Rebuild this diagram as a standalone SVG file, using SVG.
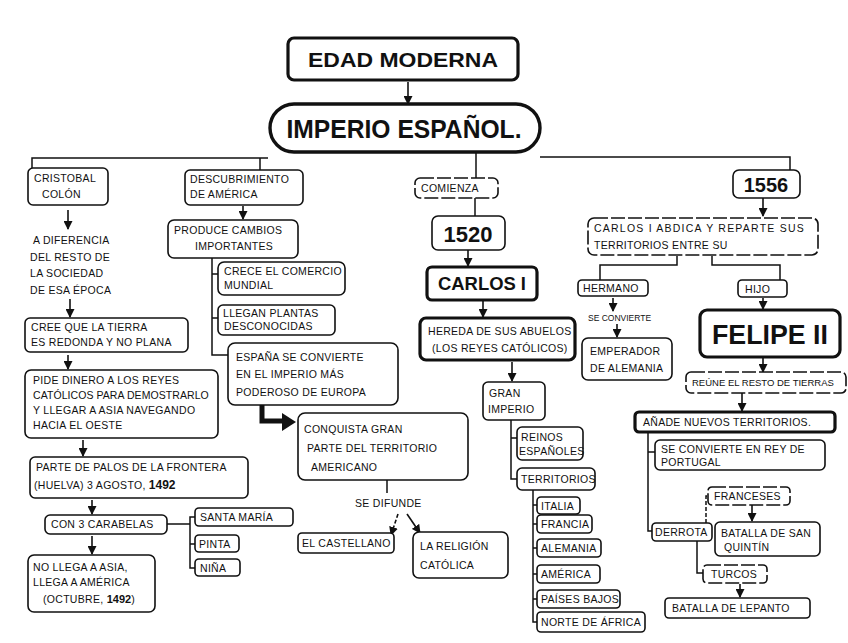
<svg xmlns="http://www.w3.org/2000/svg" width="848" height="643" viewBox="0 0 848 643">
<defs>
<marker id="ah" markerUnits="userSpaceOnUse" markerWidth="9" markerHeight="9" refX="8" refY="4.5" orient="auto">
<path d="M0,0 L9,4.5 L0,9 z" fill="#111"/>
</marker>
<style>
.b{fill:#fff;stroke:#111;stroke-width:1.6}
.bd{fill:#fff;stroke:#111;stroke-width:1.6;stroke-dasharray:14 3}
.bt{fill:#fff;stroke:#111;stroke-width:3.2}
.t{font-family:"Liberation Sans",Arial,sans-serif;font-size:10.5px;letter-spacing:0.3px;fill:#111}
.s{font-size:8.5px;letter-spacing:0}
.h{font-weight:bold;letter-spacing:0}
.m{text-anchor:middle}
.c{fill:none;stroke:#111;stroke-width:1.5}
.a{fill:none;stroke:#111;stroke-width:1.6;marker-end:url(#ah)}
</style>
</defs>
<rect width="848" height="643" fill="#fff"/>

<g id="connectors">
<path class="a" d="M408,82 V104"/>
<path class="c" d="M32,168 V158 H268 M540,157 H790 V170 M260,158 V170 M476,152 V178"/>
<path class="a" d="M68,210 V229"/>
<path class="a" d="M70,299 V317"/>
<path class="a" d="M68,355 V369"/>
<path class="a" d="M83,440 V456"/>
<path class="a" d="M92,500 V514"/>
<path class="c" d="M167,524 H190 M195,517 H190 V568 H195 M190,544 H195"/>
<path class="a" d="M92,536 V554"/>
<path class="a" d="M243,206 V219"/>
<path class="c" d="M212,258 V355 H228 M212,274 H218 M212,318 H218"/>
<path d="M262,405 V421 H284" fill="none" stroke="#111" stroke-width="5"/>
<path d="M282,413 L296,422 L282,431 z" fill="#111"/>
<path class="c" d="M387,480 V493"/>
<path class="a" d="M398,514 L391,535" stroke-dasharray="4 2"/>
<path class="a" d="M407,514 L420,533"/>
<path class="c" d="M475,198 V216"/>
<path class="a" d="M468,250 V266"/>
<path class="a" d="M483,300 V317"/>
<path class="a" d="M512,362 V381"/>
<path class="c" d="M511,420 V479 H517 M511,438 H517"/>
<path class="c" d="M533,490 V622 H537 M533,505 H537 M533,524 H537 M533,548 H537 M533,574 H537 M533,599 H537"/>
<path class="a" d="M763,198 V216"/>
<path class="c" d="M677,256 V265 H600 V280 M712,256 V265 H780 V280"/>
<path class="a" d="M613,298 V311"/>
<path class="a" d="M617,324 V337"/>
<path class="a" d="M763,298 V309"/>
<path class="a" d="M763,358 V372"/>
<path class="a" d="M742,393 V411"/>
<path class="c" d="M648,432 V531 H652 M648,452 H655"/>
<path class="c" d="M706,523 V496 H708" stroke-dasharray="4 2"/>
<path class="a" d="M752,505 V521"/>
<path class="c" d="M697,541 V573 H703"/>
<path class="a" d="M740,584 V597"/>
</g>

<g id="edad-moderna"><rect class="bt" x="288" y="38" width="230" height="42" rx="6"/><text class="t h m" x="403" y="67" style="font-size:21px" textLength="190" lengthAdjust="spacingAndGlyphs">EDAD MODERNA</text></g>
<g id="imperio"><rect x="270" y="104" width="270" height="48" rx="24" fill="#fff" stroke="#111" stroke-width="3.4"/><text class="t h m" x="404" y="138" style="font-size:25px" textLength="235" lengthAdjust="spacingAndGlyphs">IMPERIO ESPAÑOL.</text></g>

<g id="colon"><rect class="b" x="28" y="168" width="80" height="37" rx="5"/><text class="t" x="34" y="182">CRISTOBAL</text><text class="t" x="42" y="198">COLÓN</text></g>
<g id="diferencia"><text class="t" x="33" y="244">A DIFERENCIA</text><text class="t" x="30" y="261">DEL RESTO DE</text><text class="t" x="30" y="277">LA SOCIEDAD</text><text class="t" x="30" y="294">DE ESA ÉPOCA</text></g>
<g id="cree"><rect class="b" x="25" y="318" width="163" height="34" rx="5"/><text class="t" x="31" y="331">CREE QUE LA TIERRA</text><text class="t" x="31" y="346">ES REDONDA Y NO PLANA</text></g>
<g id="pide"><rect class="b" x="25" y="370" width="193" height="68" rx="6"/><text class="t" x="33" y="384">PIDE DINERO A LOS REYES</text><text class="t" x="33" y="399" textLength="176">CATÓLICOS PARA DEMOSTRARLO</text><text class="t" x="33" y="414">Y LLEGAR A ASIA NAVEGANDO</text><text class="t" x="33" y="429">HACIA EL OESTE</text></g>
<g id="parte"><rect class="b" x="30" y="457" width="218" height="41" rx="5"/><text class="t" x="36" y="471">PARTE DE PALOS DE LA FRONTERA</text><text class="t" x="34" y="489">(HUELVA) 3 AGOSTO, <tspan class="h" font-size="12">1492</tspan></text></g>
<g id="carabelas"><rect class="b" x="45" y="515" width="122" height="19" rx="5"/><text class="t" x="51" y="528">CON 3 CARABELAS</text></g>
<g id="santa-maria"><rect class="b" x="195" y="508" width="98" height="18" rx="4"/><text class="t" x="200" y="521">SANTA MARÍA</text></g>
<g id="pinta"><rect class="b" x="195" y="535" width="44" height="17" rx="4"/><text class="t" x="199" y="548">PINTA</text></g>
<g id="nina"><rect class="b" x="195" y="559" width="45" height="17" rx="4"/><text class="t" x="200" y="572">NIÑA</text></g>
<g id="no-llega"><rect class="b" x="28" y="555" width="127" height="57" rx="6"/><text class="t" x="33" y="571">NO LLEGA A ASIA,</text><text class="t" x="33" y="586">LLEGA A AMÉRICA</text><text class="t" x="43" y="603">(OCTUBRE, <tspan class="h" font-size="11">1492</tspan>)</text></g>

<g id="descubrimiento"><rect class="b" x="185" y="170" width="118" height="35" rx="5"/><text class="t" x="190" y="183">DESCUBRIMIENTO</text><text class="t" x="190" y="198">DE AMÉRICA</text></g>
<g id="produce"><rect class="b" x="168" y="220" width="130" height="38" rx="6"/><text class="t" x="174" y="234">PRODUCE CAMBIOS</text><text class="t" x="195" y="250">IMPORTANTES</text></g>
<g id="crece"><rect class="b" x="218" y="262" width="127" height="33" rx="6"/><text class="t" x="224" y="275">CRECE EL COMERCIO</text><text class="t" x="224" y="289">MUNDIAL</text></g>
<g id="plantas"><rect class="b" x="218" y="305" width="117" height="30" rx="5"/><text class="t" x="223" y="317">LLEGAN PLANTAS</text><text class="t" x="224" y="330">DESCONOCIDAS</text></g>
<g id="espana"><rect class="b" x="228" y="343" width="170" height="62" rx="7"/><text class="t" x="236" y="361">ESPAÑA SE CONVIERTE</text><text class="t" x="236" y="378">EN EL IMPERIO MÁS</text><text class="t" x="236" y="396">PODEROSO DE EUROPA</text></g>
<g id="conquista"><rect class="b" x="298" y="413" width="170" height="67" rx="7"/><text class="t" x="304" y="433">CONQUISTA GRAN</text><text class="t" x="307" y="452">PARTE DEL TERRITORIO</text><text class="t" x="311" y="471">AMERICANO</text></g>
<g id="se-difunde"><text class="t" x="355" y="507">SE DIFUNDE</text></g>
<g id="castellano"><rect class="b" x="298" y="533" width="96" height="20" rx="4"/><text class="t" x="302" y="547">EL CASTELLANO</text></g>
<g id="religion"><rect class="b" x="413" y="532" width="95" height="46" rx="6"/><text class="t" x="420" y="550">LA RELIGIÓN</text><text class="t" x="420" y="569">CATÓLICA</text></g>

<g id="comienza"><rect class="bd" x="415" y="178" width="83" height="20" rx="5"/><text class="t" x="421" y="192">COMIENZA</text></g>
<g id="y1520"><rect class="b" x="432" y="216" width="73" height="34" rx="6"/><text class="t h m" x="468" y="242" style="font-size:22px">1520</text></g>
<g id="carlos"><rect class="bt" x="427" y="267" width="110" height="33" rx="5"/><text class="t h m" x="482" y="290" style="font-size:18px" textLength="88" lengthAdjust="spacingAndGlyphs">CARLOS I</text></g>
<g id="hereda"><rect class="bt" x="420" y="318" width="155" height="42" rx="6"/><text class="t" x="428" y="335">HEREDA DE SUS ABUELOS</text><text class="t" x="432" y="352">(LOS REYES CATÓLICOS)</text></g>
<g id="gran-imperio"><rect class="b" x="483" y="382" width="62" height="38" rx="5"/><text class="t" x="489" y="397">GRAN</text><text class="t" x="488" y="413">IMPERIO</text></g>
<g id="reinos"><rect class="b" x="517" y="427" width="66" height="33" rx="5"/><text class="t" x="521" y="441">REINOS</text><text class="t" x="519" y="455">ESPAÑOLES</text></g>
<g id="territorios"><rect class="b" x="517" y="468" width="78" height="22" rx="5"/><text class="t" x="521" y="483">TERRITORIOS</text></g>
<g id="italia"><rect class="b" x="537" y="497" width="43" height="17" rx="4"/><text class="t" x="541" y="510">ITALIA</text></g>
<g id="francia"><rect class="b" x="537" y="515" width="55" height="18" rx="4"/><text class="t" x="541" y="528">FRANCIA</text></g>
<g id="alemania"><rect class="b" x="537" y="539" width="64" height="18" rx="4"/><text class="t" x="541" y="552">ALEMANIA</text></g>
<g id="america"><rect class="b" x="537" y="565" width="63" height="18" rx="4"/><text class="t" x="541" y="578">AMÉRICA</text></g>
<g id="paises-bajos"><rect class="b" x="537" y="590" width="83" height="18" rx="4"/><text class="t" x="541" y="603">PAÍSES BAJOS</text></g>
<g id="norte-africa"><rect class="b" x="537" y="612" width="108" height="20" rx="4"/><text class="t" x="541" y="626">NORTE DE ÁFRICA</text></g>

<g id="y1556"><rect class="b" x="733" y="170" width="67" height="28" rx="6"/><text class="t h m" x="766" y="192" style="font-size:20px">1556</text></g>
<g id="abdica"><rect class="bd" x="588" y="218" width="230" height="37" rx="6"/><text class="t" x="594" y="232" textLength="210">CARLOS I ABDICA Y REPARTE SUS</text><text class="t" x="594" y="249">TERRITORIOS ENTRE SU</text></g>
<g id="hermano"><rect class="b" x="578" y="280" width="70" height="16" rx="4"/><text class="t" x="583" y="292">HERMANO</text></g>
<g id="se-convierte"><text class="t s" x="588" y="321">SE CONVIERTE</text></g>
<g id="emperador"><rect class="b" x="582" y="338" width="90" height="42" rx="6"/><text class="t" x="590" y="355">EMPERADOR</text><text class="t" x="590" y="372">DE ALEMANIA</text></g>
<g id="hijo"><rect class="b" x="738" y="280" width="49" height="17" rx="4"/><text class="t" x="745" y="293">HIJO</text></g>
<g id="felipe"><rect class="bt" x="700" y="310" width="140" height="47" rx="7"/><text class="t h m" x="770" y="344" style="font-size:28px" textLength="116" lengthAdjust="spacingAndGlyphs">FELIPE II</text></g>
<g id="reune"><rect class="bd" x="686" y="372" width="160" height="21" rx="5"/><text class="t" x="692" y="386" style="font-size:9.5px;letter-spacing:0">REÚNE EL RESTO DE TIERRAS</text></g>
<g id="anade"><rect class="bt" x="635" y="412" width="200" height="20" rx="4"/><text class="t" x="643" y="426">AÑADE NUEVOS TERRITORIOS.</text></g>
<g id="portugal"><rect class="b" x="655" y="440" width="170" height="30" rx="5"/><text class="t" x="661" y="453">SE CONVIERTE EN REY DE</text><text class="t" x="661" y="466">PORTUGAL</text></g>
<g id="franceses"><rect class="bd" x="708" y="487" width="82" height="18" rx="4"/><text class="t" x="714" y="500">FRANCESES</text></g>
<g id="san-quintin"><rect class="b" x="715" y="522" width="105" height="34" rx="5"/><text class="t" x="721" y="537">BATALLA DE SAN</text><text class="t" x="724" y="551">QUINTÍN</text></g>
<g id="derrota"><rect class="b" x="652" y="523" width="60" height="18" rx="4" stroke-width="2.2"/><text class="t" x="655" y="536">DERROTA</text></g>
<g id="turcos"><rect class="bd" x="703" y="565" width="64" height="18" rx="4"/><text class="t" x="711" y="578">TURCOS</text></g>
<g id="lepanto"><rect class="b" x="665" y="598" width="145" height="20" rx="4"/><text class="t" x="672" y="612">BATALLA DE LEPANTO</text></g>
</svg>
